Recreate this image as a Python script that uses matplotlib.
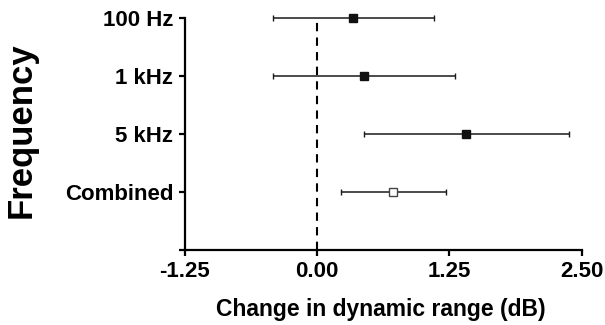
import matplotlib
matplotlib.use("Agg")
import matplotlib.pyplot as plt

# data
conditions = ["100 Hz", "1 kHz", "5 kHz", "Combined"]
means = [0.34, 0.44, 1.41, 0.72]
ci_low = [-0.42, -0.42, 0.44, 0.22]
ci_high = [1.10, 1.30, 2.38, 1.22]
filled = [True, True, True, False]

xticks = [-1.25, 0.00, 1.25, 2.50]
xticklabels = ["-1.25", "0.00", "1.25", "2.50"]

plt.rcParams["font.family"] = ["Liberation Sans", "DejaVu Sans"]
plt.rcParams["font.weight"] = "bold"

fig = plt.figure(figsize=(6.05, 3.25), dpi=100)
ax = fig.add_axes([185/605, 75/325, 396.7/605, 232.3/325])

# categories from top to bottom, position 0 left empty
ypos = list(range(len(conditions), 0, -1))

ax.axvline(0, color="black", lw=1.5, linestyle=(0, (4, 3)), zorder=1)

for y, m, lo, hi, f in zip(ypos, means, ci_low, ci_high, filled):
    eb = ax.errorbar(m, y, xerr=[[m - lo], [hi - m]], fmt="s",
                     color="#1a1a1a", ecolor="#1a1a1a", elinewidth=1.1,
                     capsize=2.3, capthick=1.1, markersize=6,
                     markerfacecolor="#111111" if f else "white",
                     markeredgecolor="#111111" if f else "#444444",
                     markeredgewidth=1.0, zorder=3)
    for art in eb.lines[0:1] + tuple(eb.lines[1]) + tuple(eb.lines[2]):
        art.set_clip_on(False)

ax.set_xlim(-1.25, 2.5)
ax.set_ylim(0, 4)
ax.set_xticks(xticks)
ax.set_xticklabels(xticklabels)
ax.set_yticks([0] + ypos)
ax.set_yticklabels([""] + conditions)

for s in ["top", "right"]:
    ax.spines[s].set_visible(False)
for s in ["left", "bottom"]:
    ax.spines[s].set_linewidth(1.6)

ax.tick_params(axis="both", width=1.6, length=4.5, labelsize=16, pad=4)
ax.tick_params(axis="x", pad=3.5)

ax.set_xlabel("Change in dynamic range (dB)", fontsize=16.5, fontweight="bold")
ax.set_ylabel("Frequency", fontsize=25, fontweight="bold")
ax.xaxis.set_label_coords(0.494, -0.205)
ax.yaxis.set_label_coords(-0.372, 0.515)

fig.savefig("out.png", dpi=100)
